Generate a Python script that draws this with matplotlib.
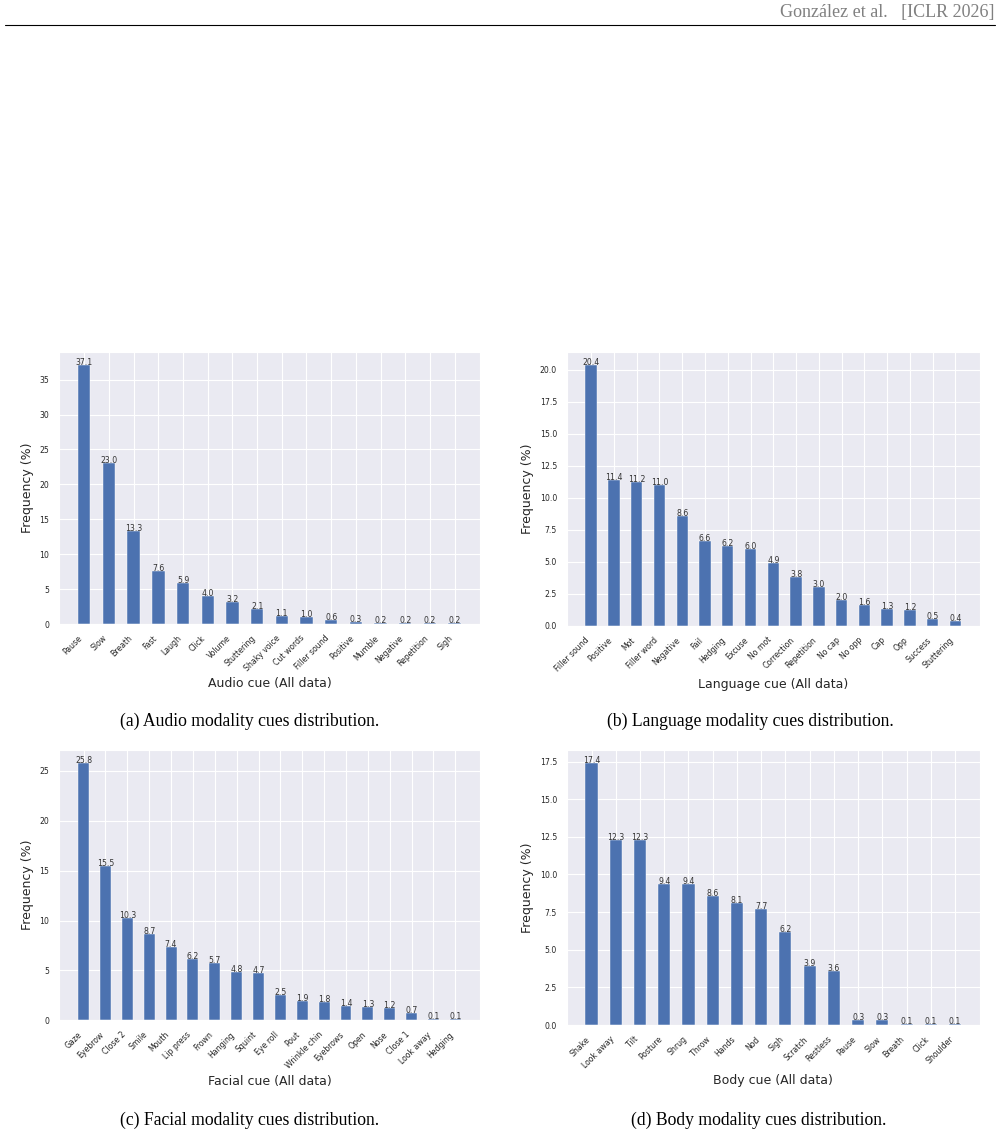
import numpy as np
import matplotlib
matplotlib.use("Agg")
import matplotlib.pyplot as plt
import seaborn as sns

# ---- data ----
audio_cues = ["Pause", "Slow", "Breath", "Fast", "Laugh", "Click", "Volume", "Stuttering",
              "Shaky voice", "Cut words", "Filler sound", "Positive", "Mumble", "Negative",
              "Repetition", "Sigh"]
audio_freq = [37.1, 23.0, 13.3, 7.6, 5.9, 4.0, 3.2, 2.1, 1.1, 1.0, 0.6, 0.3, 0.2, 0.2, 0.2, 0.2]

language_cues = ["Filler sound", "Positive", "Mot", "Filler word", "Negative", "Fail", "Hedging",
                 "Excuse", "No mot", "Correction", "Repetition", "No cap", "No opp", "Cap", "Opp",
                 "Success", "Stuttering"]
language_freq = [20.4, 11.4, 11.2, 11.0, 8.6, 6.6, 6.2, 6.0, 4.9, 3.8, 3.0, 2.0, 1.6, 1.3, 1.2, 0.5, 0.4]

facial_cues = ["Gaze", "Eyebrow", "Close 2", "Smile", "Mouth", "Lip press", "Frown", "Hanging",
               "Squint", "Eye roll", "Pout", "Wrinkle chin", "Eyebrows", "Open", "Nose", "Close 1",
               "Look away", "Hedging"]
facial_freq = [25.8, 15.5, 10.3, 8.7, 7.4, 6.2, 5.7, 4.8, 4.7, 2.5, 1.9, 1.8, 1.4, 1.3, 1.2, 0.7, 0.1, 0.1]

body_cues = ["Shake", "Look away", "Tilt", "Posture", "Shrug", "Throw", "Hands", "Nod", "Sigh",
             "Scratch", "Restless", "Pause", "Slow", "Breath", "Click", "Shoulder"]
body_freq = [17.4, 12.3, 12.3, 9.4, 9.4, 8.6, 8.1, 7.7, 6.2, 3.9, 3.6, 0.3, 0.3, 0.1, 0.1, 0.1]

captions = ["(a) Audio modality cues distribution.",
            "(b) Language modality cues distribution.",
            "(c) Facial modality cues distribution.",
            "(d) Body modality cues distribution."]

sns.set_style("darkgrid")
plt.rcParams['font.family'] = ['DejaVu Sans']

fig = plt.figure(figsize=(10.03, 11.36), dpi=100)

# axes rectangles in figure fractions
rects = [
    [0.0588, 0.4507, 0.4197, 0.2394],
    [0.5650, 0.4492, 0.4120, 0.2412],
    [0.0588, 0.1018, 0.4197, 0.2379],
    [0.5650, 0.0977, 0.4120, 0.2421],
]
panels = [
    (audio_cues, audio_freq, "Audio cue (All data)", "%d"),
    (language_cues, language_freq, "Language cue (All data)", "%.1f"),
    (facial_cues, facial_freq, "Facial cue (All data)", "%d"),
    (body_cues, body_freq, "Body cue (All data)", "%.1f"),
]


def draw_panel(ax, cues, freq, xlabel, yfmt):
    x = np.arange(len(cues))
    ax.bar(x, freq, width=0.5, color="#4c72b0", edgecolor="white", linewidth=0.3)
    for xi, v in zip(x, freq):
        ax.text(xi, v, f"{v:.1f}", ha="center", va="baseline", fontsize=5.6, color="#333333")
    ax.set_xticks(x)
    ax.set_xticklabels(cues, rotation=45, ha="right", fontsize=5.6)
    ax.tick_params(axis="x", pad=7, length=0)
    ax.tick_params(axis="y", pad=7, length=0, labelsize=5.6)
    ax.yaxis.set_major_formatter(matplotlib.ticker.FormatStrFormatter(yfmt))
    if yfmt == "%.1f":
        ax.yaxis.set_major_locator(matplotlib.ticker.MultipleLocator(2.5))
    else:
        ax.yaxis.set_major_locator(matplotlib.ticker.MultipleLocator(5))
    ax.set_xlabel(xlabel, fontsize=9, labelpad=3)
    ax.set_ylabel("Frequency (%)", fontsize=9, labelpad=4)


for rect, (cues, freq, xlabel, yfmt) in zip(rects, panels):
    ax = fig.add_axes(rect)
    draw_panel(ax, cues, freq, xlabel, yfmt)

# sub-captions
serif = dict(family="Liberation Serif", fontsize=12.7, color="black")
fig.text(250 / 1003, 1 - 721 / 1136, captions[0], ha="center", va="center", **serif)
fig.text(750 / 1003, 1 - 721 / 1136, captions[1], ha="center", va="center", **serif)
fig.text(250 / 1003, 1 - 1120 / 1136, captions[2], ha="center", va="center", **serif)
fig.text(759 / 1003, 1 - 1120 / 1136, captions[3], ha="center", va="center", **serif)

# page header
fig.text(995 / 1003, 1 - 12 / 1136, "González et al.   [ICLR 2026]", ha="right", va="center",
         family="Liberation Serif", fontsize=13, color="#808080")
fig.add_artist(plt.Line2D([5 / 1003, 995 / 1003], [1 - 24.5 / 1136, 1 - 24.5 / 1136],
                          color="black", linewidth=0.8, transform=fig.transFigure))

fig.savefig("out.png", dpi=100, facecolor="white")
